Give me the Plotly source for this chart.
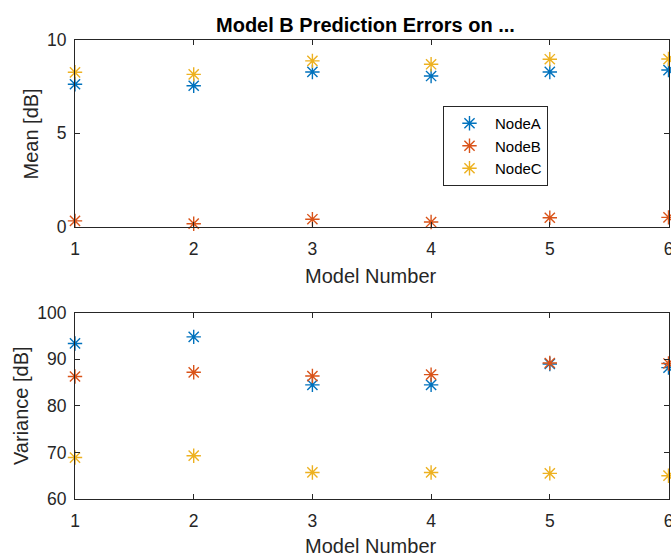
import plotly.graph_objects as go

# Model numbers on the x axis
models = [1, 2, 3, 4, 5, 6]

# Mean prediction error per node [dB]
mean_node_a = [7.63, 7.55, 8.29, 8.07, 8.29, 8.39]
mean_node_b = [0.31, 0.16, 0.40, 0.25, 0.48, 0.50]
mean_node_c = [8.27, 8.16, 8.88, 8.70, 8.97, 8.98]

# Variance of prediction error per node [dB]
var_node_a = [93.4, 94.8, 84.5, 84.5, 89.0, 88.2]
var_node_b = [86.3, 87.2, 86.4, 86.7, 89.2, 89.1]
var_node_c = [68.9, 69.3, 65.7, 65.7, 65.5, 65.0]

node_names = ["NodeA", "NodeB", "NodeC"]
node_colors = ["#0072BD", "#D95319", "#EDB120"]

mean_ticks = [0, 5, 10]
var_ticks = [60, 70, 80, 90, 100]

W, H = 671, 554
FONT = "Liberation Sans, Arial, Helvetica, sans-serif"
AX_COLOR = "#262626"


def px_x(v):
    return v / W


def px_y(v):
    return 1 - v / H


fig = go.Figure()

mean_series = [mean_node_a, mean_node_b, mean_node_c]
var_series = [var_node_a, var_node_b, var_node_c]

for name, color, ys in zip(node_names, node_colors, mean_series):
    fig.add_trace(go.Scatter(
        x=models, y=ys, mode="markers", name=name,
        xaxis="x", yaxis="y", cliponaxis=False,
        marker=dict(symbol="asterisk-open", size=12, color=color,
                    line=dict(color=color, width=1.4)),
    ))

for name, color, ys in zip(node_names, node_colors, var_series):
    fig.add_trace(go.Scatter(
        x=models, y=ys, mode="markers", name=name, showlegend=False,
        xaxis="x2", yaxis="y2", cliponaxis=False,
        marker=dict(symbol="asterisk-open", size=12, color=color,
                    line=dict(color=color, width=1.4)),
    ))

axis_common = dict(
    showline=True, linecolor=AX_COLOR, linewidth=1, mirror="ticks",
    ticks="inside", ticklen=5, tickwidth=1, tickcolor=AX_COLOR,
    showgrid=False, zeroline=False, ticklabeloverflow="allow",
    automargin=False,
    tickfont=dict(family=FONT, size=17.5, color=AX_COLOR),
    fixedrange=True,
)

x_domain = [px_x(75), px_x(668.5)]

fig.update_layout(
    width=W, height=H, autosize=False,
    margin=dict(l=0, r=0, t=0, b=0, pad=0, autoexpand=False),
    paper_bgcolor="white", plot_bgcolor="white",
    font=dict(family=FONT, color=AX_COLOR),
    xaxis=dict(axis_common, domain=x_domain, anchor="y", range=[1, 6],
               tickvals=models, ticklabelstandoff=6),
    yaxis=dict(axis_common, domain=[px_y(226.7), px_y(40)], anchor="x",
               range=[0, 10], tickvals=mean_ticks, ticklabelstandoff=4),
    xaxis2=dict(axis_common, domain=x_domain, anchor="y2", range=[1, 6],
                tickvals=models, ticklabelstandoff=6),
    yaxis2=dict(axis_common, domain=[px_y(499), px_y(312.7)], anchor="x2",
                range=[60, 100], tickvals=var_ticks, ticklabelstandoff=4),
    legend=dict(
        x=px_x(443), y=px_y(106), xanchor="left", yanchor="top",
        bgcolor="white", bordercolor=AX_COLOR, borderwidth=1,
        itemwidth=41,
        font=dict(family=FONT, size=15, color="#000000"),
        itemclick=False, itemdoubleclick=False,
    ),
    showlegend=True,
)

annotations = [
    dict(text="<b>Model B Prediction Errors on ...</b>", x=px_x(365), y=px_y(25),
         font=dict(size=20, color="#000000")),
    dict(text="Model Number", x=px_x(371), y=px_y(275.5), font=dict(size=20)),
    dict(text="Model Number", x=px_x(371), y=px_y(545.5), font=dict(size=20)),
    dict(text="Mean [dB]", x=px_x(30.5), y=px_y(134), textangle=-90,
         font=dict(size=20)),
    dict(text="Variance [dB]", x=px_x(21), y=px_y(406), textangle=-90,
         font=dict(size=20)),
]
for a in annotations:
    a.update(xref="paper", yref="paper", showarrow=False,
             xanchor="center", yanchor="middle")
    a["font"].setdefault("color", AX_COLOR)
    a["font"]["family"] = FONT
fig.update_layout(annotations=annotations)

# Let the figure sit flush in the page without the default body margin
page_css = ("document.body.style.margin='0';"
            "document.body.style.padding='0';"
            "document.body.style.overflow='hidden';")

fig.write_html("out.html", post_script=page_css)
